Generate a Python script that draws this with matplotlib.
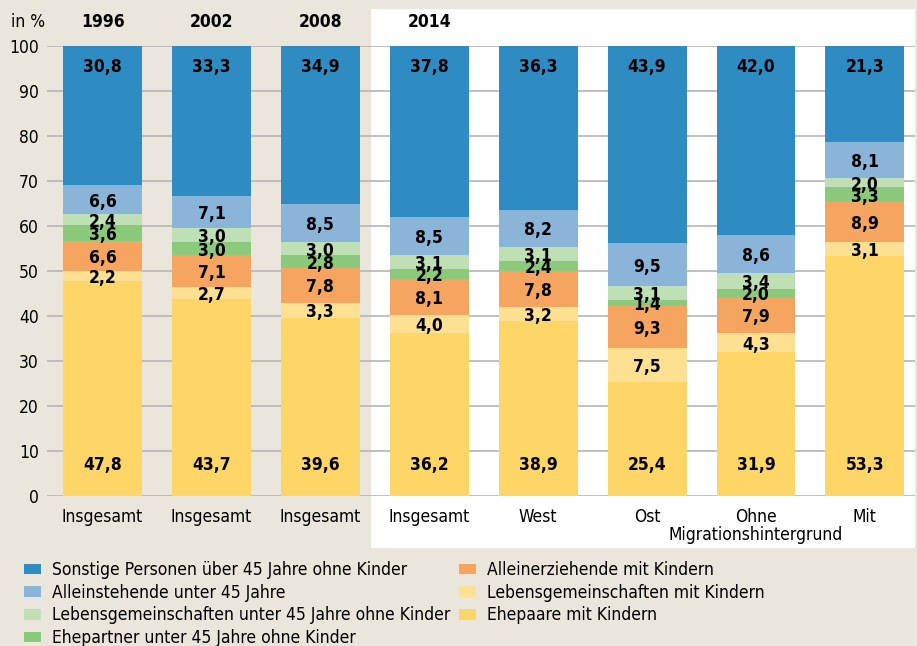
import matplotlib
matplotlib.use("Agg")
import matplotlib.pyplot as plt
from matplotlib.patches import Rectangle, Patch
from matplotlib import font_manager

# fonte estreita, se existir
fonts = font_manager.fontManager.ttflist
names = {f.name for f in fonts}
has_dv_cond = any(f.name == "DejaVu Sans" and f.stretch == "condensed" for f in fonts)
if "Liberation Sans Narrow" in names:
    FONT, STRETCH = "Liberation Sans Narrow", "normal"
else:
    FONT, STRETCH = "DejaVu Sans", ("condensed" if has_dv_cond else "normal")
plt.rcParams["font.family"] = [FONT, "DejaVu Sans"]
plt.rcParams["font.stretch"] = STRETCH

# ---- dados ----
categories = ["Insgesamt", "Insgesamt", "Insgesamt", "Insgesamt", "West", "Ost",
              "Ohne\nMigrationshintergrund", "Mit"]
years = ["1996", "2002", "2008", "2014"]

# da base para o topo
ehepaare = [47.8, 43.7, 39.6, 36.2, 38.9, 25.4, 31.9, 53.3]
lg_mit_kindern = [2.2, 2.7, 3.3, 4.0, 3.2, 7.5, 4.3, 3.1]
alleinerziehende = [6.6, 7.1, 7.8, 8.1, 7.8, 9.3, 7.9, 8.9]
ehepartner_u45 = [3.6, 3.0, 2.8, 2.2, 2.4, 1.4, 2.0, 3.3]
lg_u45 = [2.4, 3.0, 3.0, 3.1, 3.1, 3.1, 3.4, 2.0]
alleinstehende_u45 = [6.6, 7.1, 8.5, 8.5, 8.2, 9.5, 8.6, 8.1]
sonstige = [30.8, 33.3, 34.9, 37.8, 36.3, 43.9, 42.0, 21.3]

series = [
    ("Ehepaare mit Kindern", ehepaare, "#fed668"),
    ("Lebensgemeinschaften mit Kindern", lg_mit_kindern, "#fde092"),
    ("Alleinerziehende mit Kindern", alleinerziehende, "#f6a560"),
    ("Ehepartner unter 45 Jahre ohne Kinder", ehepartner_u45, "#8bc97b"),
    ("Lebensgemeinschaften unter 45 Jahre ohne Kinder", lg_u45, "#bfdfb4"),
    ("Alleinstehende unter 45 Jahre", alleinstehende_u45, "#8ab5d9"),
    ("Sonstige Personen über 45 Jahre ohne Kinder", sonstige, "#2f8cc2"),
]

BG = "#ebe6dc"
W, H = 917, 646

fig = plt.figure(figsize=(W / 100, H / 100), dpi=100, facecolor=BG)

# painel branco de 2014
fig.patches.append(Rectangle((371 / W, 1 - 548 / H), (915 - 371) / W, (548 - 9) / H,
                             transform=fig.transFigure, facecolor="white",
                             edgecolor="none", zorder=-5))

ax = fig.add_axes([47 / W, 1 - 496 / H, (915 - 47) / W, 450 / H])
ax.set_facecolor("none")

x = list(range(len(categories)))
bottom = [0.0] * len(categories)
for name, vals, color in series:
    ax.bar(x, vals, 0.725, bottom=bottom, color=color, label=name, zorder=2)
    for i, v in enumerate(vals):
        txt = f"{v:.1f}".replace(".", ",")
        if name.startswith("Sonstige"):
            pos, off = (i, 100), (0, -15)
        elif name.startswith("Ehepaare"):
            pos, off = (i, 0), (0, 22)
        else:
            pos, off = (i, bottom[i] + v / 2), (0, -1.5)
        ax.annotate(txt, pos, xytext=off, textcoords="offset points", ha="center",
                    va="center", fontsize=12.5, fontweight="bold", zorder=3)
    bottom = [b + v for b, v in zip(bottom, vals)]

ax.set_xlim(-0.51, 7.46)
ax.set_ylim(0, 100)
ax.set_yticks(range(0, 101, 10))
ax.yaxis.grid(True, color="#b5b5b5", linewidth=1.2, zorder=1)
ax.set_axisbelow(True)
for s in ax.spines.values():
    s.set_visible(False)
ax.tick_params(axis="y", length=0, pad=6, labelsize=12.5)
ax.tick_params(axis="x", length=0, pad=9, labelsize=12.5)
ax.set_xticks(x)
ax.set_xticklabels(categories, linespacing=1.0)

# anos
for i, yr in enumerate(years):
    ax.annotate(yr, (i, 100), xytext=(0, 17), textcoords="offset points",
                ha="center", va="center", fontsize=12.5, fontweight="bold")
fig.text(45 / W, 1 - 22 / H, "in %", ha="right", va="center", fontsize=12.5)

# legenda em duas colunas
handles = [Patch(facecolor=c, edgecolor="none", label=n) for n, _, c in series[::-1]]
leg_kw = dict(loc="upper left", frameon=False, fontsize=12.5, handlelength=0.98,
              handleheight=0.57, handletextpad=0.62, labelspacing=0.27,
              borderaxespad=0, borderpad=0)
fig.legend(handles=handles[:4], bbox_to_anchor=(24 / W, 1 - 561 / H), **leg_kw)
fig.legend(handles=handles[4:], bbox_to_anchor=(459 / W, 1 - 561 / H), **leg_kw)

fig.savefig("out.png", dpi=100, facecolor=BG)
